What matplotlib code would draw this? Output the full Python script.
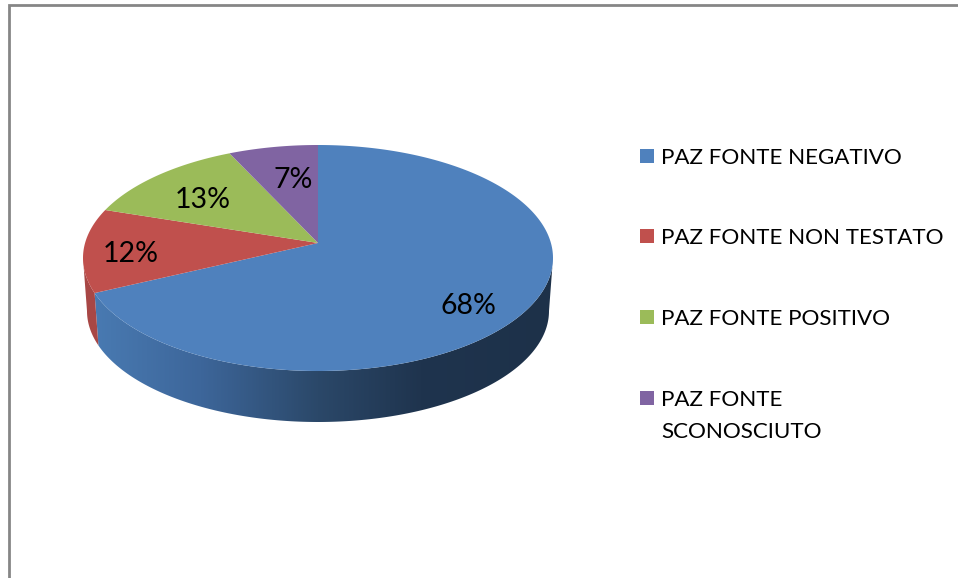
import numpy as np
import matplotlib
matplotlib.use("Agg")
import matplotlib.pyplot as plt
from matplotlib.colors import LinearSegmentedColormap
from matplotlib.patches import Polygon, Rectangle

# Chart content
categories = ["PAZ FONTE NEGATIVO", "PAZ FONTE NON TESTATO",
              "PAZ FONTE POSITIVO", "PAZ FONTE\nSCONOSCIUTO"]
shares = [68, 12, 13, 7]
top_colors = ["#4f81bd", "#c0504d", "#9bbb59", "#8064a2"]
side_color_red = "#a84745"

# Geometry of the tilted disc, in figure pixels
WIDTH, HEIGHT = 958, 578
CX, CY, RX, RY = 318.0, 258.0, 235.0, 113.0
BOTTOM_CY, BOTTOM_RX, BOTTOM_RY = 311.0, 231.0, 111.0
APEX_SHIFT = 0.133  # perspective offset of the disc centre

plt.rcParams["font.family"] = ["Lato", "DejaVu Sans"]
fig = plt.figure(figsize=(WIDTH / 100, HEIGHT / 100), dpi=100)
ax = fig.add_axes([0, 0, 1, 1])
ax.set_xlim(0, WIDTH)
ax.set_ylim(HEIGHT, 0)
ax.axis("off")


def rim_param(fraction):
    """Ellipse parameter of the rim point reached after a share of the full turn."""
    a = 2 * np.pi * np.asarray(fraction, dtype=float)
    u, v = np.sin(a), np.cos(a)
    den = 1 + APEX_SHIFT * v
    x = u * np.sqrt(1 - APEX_SHIFT ** 2) / den
    y = (v + APEX_SHIFT) / den
    return np.unwrap(np.arctan2(x, y))


def top_rim(t):
    return np.column_stack([CX + RX * np.sin(t), CY - RY * np.cos(t)])


def bottom_rim(t):
    return np.column_stack([CX + BOTTOM_RX * np.sin(t), BOTTOM_CY - BOTTOM_RY * np.cos(t)])


apex = np.array([CX, CY - APEX_SHIFT * RY])
total = sum(shares)
edges = np.cumsum([0] + shares) / total

# Outer wall: blue slice shaded left to right, red slice flat
side_cmap = LinearSegmentedColormap.from_list(
    "wall", [(0.0, "#4a7cb4"), (0.25, "#3d669a"), (0.5, "#2b4869"),
             (0.72, "#1f344e"), (1.0, "#1d3149")])


def wall_polygon(start, stop):
    t = np.linspace(start, stop, 200)
    return np.vstack([top_rim(t), bottom_rim(t[::-1])])


blue_end = rim_param([edges[1]])[0] % (2 * np.pi)
blue_wall = Polygon(wall_polygon(np.pi / 2, blue_end), closed=True,
                    facecolor="none", edgecolor="none")
ax.add_patch(blue_wall)
gradient = ax.imshow(np.linspace(0, 1, 512)[None, :], cmap=side_cmap, aspect="auto",
                     extent=(CX - RX, CX + RX, 430, 250), zorder=1.5)
gradient.set_clip_path(blue_wall)
ax.set_xlim(0, WIDTH)
ax.set_ylim(HEIGHT, 0)

ax.add_patch(Polygon(wall_polygon(blue_end, 1.5 * np.pi), closed=True,
                     facecolor=side_color_red, edgecolor="none", zorder=1.5))

# Top face of each slice
for start, stop, color in zip(edges[:-1], edges[1:], top_colors):
    t = rim_param(np.linspace(start, stop, 240))
    ax.add_patch(Polygon(np.vstack([apex, top_rim(t)]), closed=True,
                         facecolor=color, edgecolor="none", zorder=2))

# Percentage labels
label_xy = [(468.5, 306.5), (130.5, 253.5), (203, 199.5), (293, 180.5)]
for share, (x, y) in zip(shares, label_xy):
    ax.text(x, y, f"{share}%", fontsize=20.5, color="#000000",
            ha="center", va="center", zorder=3)

# Legend entries
legend_y = [156, 236, 317, 398]
for name, color, y in zip(categories, top_colors, legend_y):
    ax.add_patch(Rectangle((640, y - 7), 14, 14, facecolor=color, edgecolor="none"))
    for i, line in enumerate(name.split("\n")):
        ax.text(661, y + i * 32, line, fontsize=16.1, color="#000000",
                ha="left", va="center_baseline")

# Chart frame, running off the right and bottom edges
frame = "#868686"
ax.plot([9, 9, WIDTH], [HEIGHT, 5, 5], color=frame, lw=2, solid_joinstyle="miter",
        solid_capstyle="butt")

fig.savefig("out.png", dpi=100, facecolor="white")
